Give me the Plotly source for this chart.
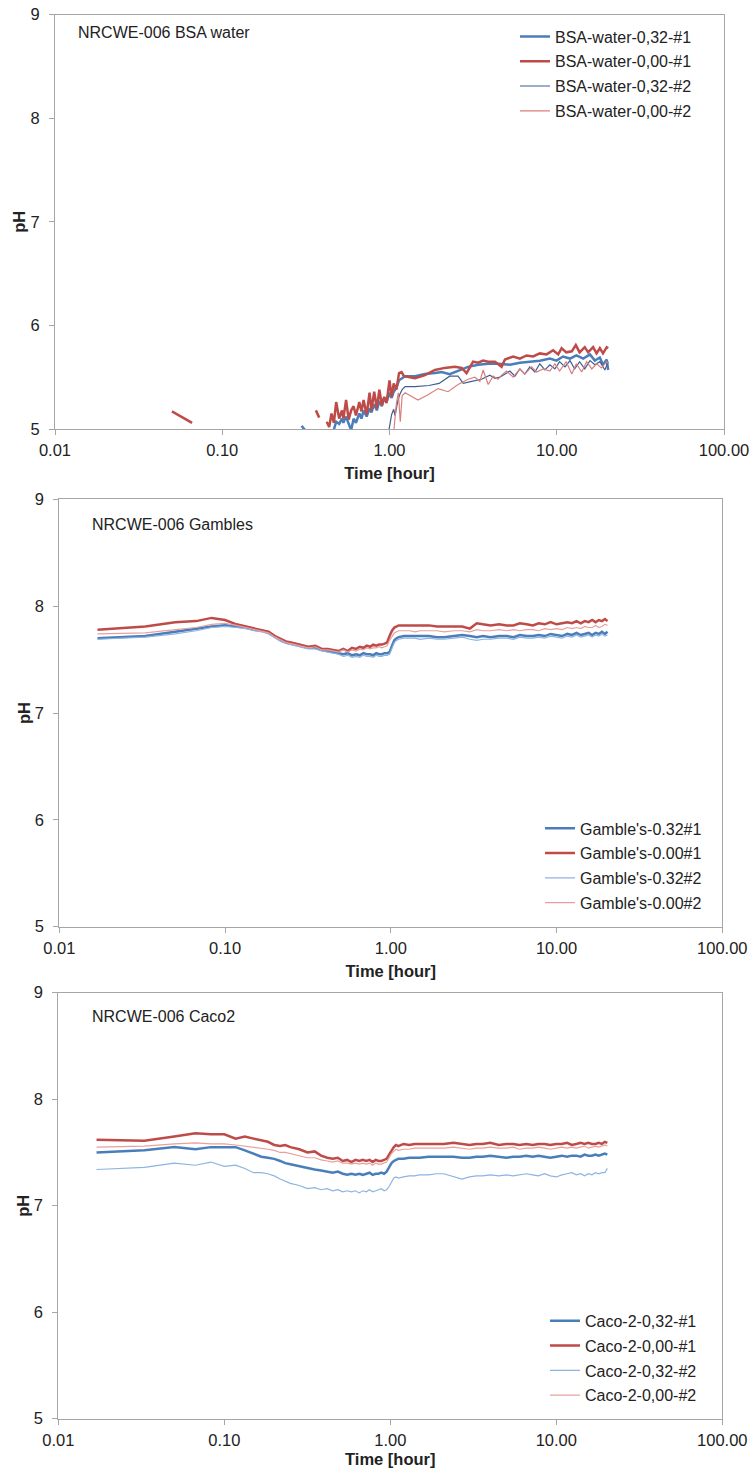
import plotly.graph_objects as go

W, H = 751, 1468

# ---------------- Panel 1: BSA water ----------------
bsa_t_032_1 = [0.298, 0.32, 0.40, 0.46, 0.48, 0.50, 0.52, 0.53, 0.55, 0.57, 0.59, 0.61, 0.63, 0.66, 0.68,
               0.70, 0.73, 0.76, 0.78, 0.81, 0.84, 0.87, 0.90, 0.93, 0.96, 1.00, 1.03, 1.06, 1.10, 1.14,
               1.18, 1.24, 1.42, 1.63, 1.87, 2.05, 2.29, 2.57, 2.95, 3.39, 3.89, 4.46, 4.90, 5.25, 6.02,
               6.90, 7.92, 9.10, 9.97, 10.9, 12.0, 13.1, 14.4, 15.8, 16.9, 18.1, 18.9, 19.9, 20.3]
bsa_ph_032_1 = [5.03, 4.97, None, 4.97, 5.07, 5.05, 5.10, 5.06, 5.12, 5.05, 4.99, 5.10, 5.06, 5.15, 5.10,
                5.18, 5.12, 5.20, 5.16, 5.24, 5.18, 5.27, 5.22, 5.30, 5.26, 5.35, 5.30, 5.36, 5.40, 5.47,
                5.49, 5.51, 5.51, 5.53, 5.54, 5.55, 5.53, 5.56, 5.60, 5.62, 5.63, 5.63, 5.62, 5.62, 5.64,
                5.65, 5.66, 5.68, 5.66, 5.70, 5.68, 5.71, 5.68, 5.72, 5.66, 5.69, 5.62, 5.67, 5.57]

bsa_t_000_1 = [0.050, 0.066, 0.20, 0.363, 0.38, 0.40, 0.421, 0.436, 0.45, 0.465, 0.48, 0.50, 0.52, 0.53,
               0.55, 0.57, 0.59, 0.61, 0.63, 0.66, 0.68, 0.70, 0.73, 0.76, 0.78, 0.81, 0.84, 0.87, 0.90,
               0.93, 0.96, 1.00, 1.03, 1.06, 1.10, 1.14, 1.18, 1.22, 1.42, 1.63, 1.87, 2.14, 2.46, 2.70,
               2.89, 3.16, 3.39, 3.63, 3.89, 4.27, 4.68, 4.90, 5.49, 6.02, 6.60, 7.23, 7.92, 8.69, 9.51,
               10.2, 10.7, 11.4, 12.3, 13.0, 13.7, 14.7, 15.4, 16.5, 17.3, 18.1, 18.9, 19.9, 20.3]
bsa_ph_000_1 = [5.17, 5.06, None, 5.18, 5.11, None, 5.07, 5.02, 5.15, 5.06, 5.26, 5.10, 5.18, 5.10,
                5.28, 5.09, 5.18, 5.22, 5.13, 5.26, 5.17, 5.28, 5.14, 5.35, 5.18, 5.36, 5.20, 5.38, 5.23,
                5.31, 5.25, 5.47, 5.31, 5.44, 5.38, 5.54, 5.55, 5.51, 5.49, 5.52, 5.57, 5.59, 5.60, 5.59,
                5.54, 5.65, 5.64, 5.66, 5.65, 5.65, 5.60, 5.67, 5.70, 5.68, 5.71, 5.70, 5.73, 5.72, 5.76,
                5.72, 5.78, 5.74, 5.75, 5.81, 5.74, 5.79, 5.74, 5.79, 5.73, 5.78, 5.73, 5.79, 5.78]

bsa_t_032_2 = [0.97, 1.00, 1.03, 1.06, 1.08, 1.12, 1.15, 1.19, 1.24, 1.42, 1.72, 1.98, 2.29, 2.57, 2.76,
               3.10, 3.55, 3.98, 4.27, 4.57, 4.90, 5.25, 5.62, 6.02, 6.44, 6.90, 7.40, 7.92, 8.49, 9.10,
               9.75, 10.4, 11.2, 12.0, 12.8, 13.7, 14.7, 15.8, 16.9, 18.1, 19.4, 20.3]
bsa_ph_032_2 = [4.90, 5.01, 5.14, 5.19, 5.13, 5.27, 5.33, 5.38, 5.41, 5.41, 5.42, 5.44, 5.51, 5.51, 5.44,
                5.46, 5.48, 5.52, 5.49, 5.50, 5.53, 5.56, 5.51, 5.58, 5.53, 5.60, 5.55, 5.63, 5.57, 5.62,
                5.58, 5.65, 5.60, 5.66, 5.58, 5.65, 5.58, 5.66, 5.62, 5.65, 5.57, 5.65]

bsa_t_000_2 = [1.05, 1.10, 1.13, 1.16, 1.19, 1.24, 1.48, 1.70, 1.95, 2.24, 2.57, 2.95, 3.24, 3.47, 3.63,
               3.89, 4.17, 4.46, 4.68, 5.01, 5.49, 6.02, 6.44, 7.07, 7.57, 8.30, 9.10, 9.75, 10.4, 11.4,
               12.3, 13.1, 14.1, 15.1, 16.2, 17.3, 18.5, 19.9, 20.3]
bsa_ph_000_2 = [4.90, 5.25, 5.35, 5.07, 5.32, 5.35, 5.28, 5.33, 5.39, 5.36, 5.43, 5.48, 5.50, 5.46, 5.57,
                5.43, 5.51, 5.48, 5.52, 5.56, 5.50, 5.58, 5.53, 5.60, 5.55, 5.58, 5.56, 5.63, 5.56, 5.65,
                5.53, 5.63, 5.55, 5.65, 5.58, 5.63, 5.59, 5.65, 5.63]

# ---------------- Shared sampling times for panels 2 and 3 (hours) ----------------
time_h = [0.017, 0.033, 0.050, 0.067, 0.083, 0.100, 0.117, 0.133, 0.150, 0.167,
          0.183, 0.200, 0.217, 0.233, 0.250, 0.283, 0.317, 0.350, 0.383, 0.417,
          0.450, 0.483, 0.517, 0.550, 0.583, 0.617, 0.650, 0.683, 0.717, 0.750,
          0.783, 0.817, 0.850, 0.883, 0.917, 0.950, 0.983, 1.017, 1.050, 1.083,
          1.117, 1.2, 1.3, 1.4, 1.5, 1.7, 1.9, 2.1, 2.4, 2.7,
          3.0, 3.3, 3.6, 4.0, 4.5, 5.0, 5.5, 6.0, 6.6, 7.2,
          7.8, 8.5, 9.2, 10.0, 10.8, 11.6, 12.4, 13.2, 14.0, 14.8,
          15.6, 16.4, 17.2, 18.0, 18.8, 19.6, 20.3]

# ---------------- Panel 2: Gambles ----------------
gam_032_1 = [7.70, 7.72, 7.76, 7.79, 7.81, 7.82, 7.81, 7.80, 7.78, 7.77,
             7.75, 7.71, 7.68, 7.66, 7.65, 7.63, 7.61, 7.61, 7.59, 7.58,
             7.57, 7.56, 7.55, 7.56, 7.54, 7.55, 7.54, 7.56, 7.55, 7.55,
             7.54, 7.56, 7.55, 7.55, 7.56, 7.56, 7.57, 7.63, 7.68, 7.70,
             7.71, 7.72, 7.72, 7.72, 7.72, 7.72, 7.71, 7.71, 7.72, 7.73,
             7.72, 7.71, 7.72, 7.71, 7.72, 7.72, 7.71, 7.73, 7.72, 7.72,
             7.73, 7.72, 7.74, 7.73, 7.72, 7.74, 7.73, 7.75, 7.73, 7.74,
             7.75, 7.73, 7.75, 7.74, 7.76, 7.74, 7.76]
gam_000_1 = [7.78, 7.81, 7.85, 7.86, 7.89, 7.87, 7.83, 7.81, 7.79, 7.78,
             7.76, 7.72, 7.69, 7.67, 7.66, 7.64, 7.62, 7.63, 7.60, 7.60,
             7.59, 7.58, 7.60, 7.58, 7.61, 7.60, 7.62, 7.61, 7.63, 7.62,
             7.64, 7.63, 7.64, 7.64, 7.65, 7.66, 7.72, 7.77, 7.80, 7.81,
             7.82, 7.82, 7.82, 7.82, 7.82, 7.82, 7.81, 7.81, 7.81, 7.81,
             7.79, 7.84, 7.83, 7.82, 7.83, 7.82, 7.82, 7.84, 7.83, 7.82,
             7.84, 7.83, 7.85, 7.83, 7.84, 7.85, 7.84, 7.86, 7.84, 7.86,
             7.85, 7.87, 7.85, 7.87, 7.86, 7.88, 7.86]
gam_032_2 = [7.69, 7.71, 7.74, 7.77, 7.80, 7.81, 7.80, 7.79, 7.77, 7.76,
             7.74, 7.70, 7.67, 7.65, 7.64, 7.62, 7.60, 7.60, 7.58, 7.57,
             7.56, 7.55, 7.53, 7.54, 7.52, 7.53, 7.52, 7.54, 7.53, 7.53,
             7.52, 7.54, 7.53, 7.53, 7.54, 7.54, 7.55, 7.61, 7.66, 7.68,
             7.69, 7.70, 7.70, 7.70, 7.69, 7.70, 7.69, 7.69, 7.70, 7.71,
             7.69, 7.68, 7.69, 7.69, 7.70, 7.70, 7.69, 7.71, 7.70, 7.70,
             7.71, 7.70, 7.72, 7.71, 7.70, 7.72, 7.71, 7.73, 7.71, 7.72,
             7.73, 7.71, 7.73, 7.72, 7.74, 7.72, 7.73]
gam_000_2 = [7.74, 7.75, 7.78, 7.80, 7.83, 7.84, 7.82, 7.80, 7.78, 7.77,
             7.75, 7.71, 7.68, 7.66, 7.65, 7.63, 7.61, 7.62, 7.59, 7.59,
             7.58, 7.57, 7.59, 7.57, 7.59, 7.58, 7.60, 7.59, 7.61, 7.60,
             7.61, 7.61, 7.62, 7.61, 7.62, 7.63, 7.68, 7.72, 7.75, 7.76,
             7.77, 7.77, 7.77, 7.76, 7.77, 7.77, 7.77, 7.76, 7.77, 7.77,
             7.76, 7.78, 7.77, 7.77, 7.78, 7.77, 7.78, 7.77, 7.78, 7.78,
             7.77, 7.79, 7.78, 7.79, 7.78, 7.80, 7.79, 7.80, 7.79, 7.81,
             7.80, 7.80, 7.82, 7.80, 7.81, 7.83, 7.82]

# ---------------- Panel 3: Caco2 ----------------
caco_032_1 = [7.50, 7.52, 7.55, 7.53, 7.55, 7.55, 7.55, 7.52, 7.49, 7.46,
              7.45, 7.44, 7.42, 7.40, 7.39, 7.37, 7.35, 7.34, 7.33, 7.32,
              7.31, 7.32, 7.30, 7.29, 7.30, 7.29, 7.30, 7.29, 7.30, 7.31,
              7.29, 7.30, 7.30, 7.31, 7.30, 7.32, 7.36, 7.40, 7.42, 7.43,
              7.44, 7.44, 7.45, 7.45, 7.45, 7.46, 7.46, 7.46, 7.46, 7.45,
              7.45, 7.46, 7.46, 7.47, 7.46, 7.45, 7.46, 7.46, 7.47, 7.46,
              7.47, 7.46, 7.45, 7.46, 7.47, 7.46, 7.47, 7.47, 7.46, 7.48,
              7.47, 7.47, 7.48, 7.47, 7.48, 7.49, 7.48]
caco_000_1 = [7.62, 7.61, 7.65, 7.68, 7.67, 7.67, 7.63, 7.65, 7.63, 7.61,
              7.60, 7.57, 7.56, 7.57, 7.55, 7.53, 7.50, 7.51, 7.47, 7.45,
              7.44, 7.45, 7.42, 7.43, 7.41, 7.43, 7.42, 7.43, 7.42, 7.43,
              7.41, 7.43, 7.42, 7.42, 7.43, 7.44, 7.48, 7.52, 7.55, 7.57,
              7.56, 7.58, 7.57, 7.58, 7.58, 7.58, 7.58, 7.58, 7.59, 7.58,
              7.57, 7.58, 7.58, 7.59, 7.57, 7.58, 7.58, 7.57, 7.58, 7.57,
              7.58, 7.58, 7.57, 7.58, 7.58, 7.59, 7.57, 7.58, 7.59, 7.58,
              7.59, 7.58, 7.58, 7.59, 7.58, 7.60, 7.59]
caco_032_2 = [7.34, 7.36, 7.40, 7.38, 7.41, 7.37, 7.38, 7.35, 7.31, 7.31,
              7.30, 7.28, 7.25, 7.23, 7.21, 7.19, 7.16, 7.17, 7.15, 7.16,
              7.14, 7.15, 7.13, 7.14, 7.13, 7.14, 7.12, 7.14, 7.13, 7.15,
              7.13, 7.14, 7.15, 7.16, 7.14, 7.15, 7.18, 7.23, 7.26, 7.27,
              7.26, 7.27, 7.28, 7.28, 7.29, 7.29, 7.30, 7.30, 7.27, 7.25,
              7.27, 7.28, 7.28, 7.29, 7.28, 7.29, 7.28, 7.29, 7.30, 7.29,
              7.28, 7.30, 7.28, 7.27, 7.29, 7.30, 7.31, 7.29, 7.30, 7.28,
              7.30, 7.29, 7.31, 7.30, 7.31, 7.31, 7.35]
caco_000_2 = [7.55, 7.56, 7.58, 7.59, 7.58, 7.58, 7.57, 7.56, 7.55, 7.54,
              7.53, 7.52, 7.50, 7.50, 7.49, 7.47, 7.45, 7.45, 7.43, 7.42,
              7.41, 7.42, 7.40, 7.40, 7.39, 7.40, 7.39, 7.40, 7.39, 7.40,
              7.38, 7.40, 7.39, 7.39, 7.40, 7.41, 7.45, 7.49, 7.51, 7.53,
              7.52, 7.53, 7.53, 7.54, 7.54, 7.54, 7.54, 7.54, 7.55, 7.54,
              7.53, 7.54, 7.54, 7.55, 7.54, 7.54, 7.55, 7.53, 7.54, 7.54,
              7.55, 7.54, 7.53, 7.54, 7.55, 7.54, 7.55, 7.54, 7.55, 7.56,
              7.54, 7.55, 7.56, 7.55, 7.56, 7.57, 7.56]

x_tickvals = [0.01, 0.1, 1, 10, 100]
x_ticktext = ["0.01", "0.10", "1.00", "10.00", "100.00"]
y_tickvals = [5, 6, 7, 8, 9]

BLUE1, RED1 = "#4a7ebb", "#be4b48"
BLUE2_BSA, RED2_BSA = "#3e5f94", "#d9807d"
BLUE2, RED2 = "#8db4e2", "#e8a09e"
AXC = "#a6a6a6"
TXT = "#222222"
FONT = "Arial, Liberation Sans, sans-serif"

fig = go.Figure()

def add(x, y, name, color, width, xa, ya, leg):
    fig.add_trace(go.Scatter(x=x, y=y, mode="lines", name=name, legendgroup=name,
                             line=dict(color=color, width=width), xaxis=xa, yaxis=ya,
                             legend=leg, connectgaps=False, cliponaxis=True))

add(bsa_t_032_1, bsa_ph_032_1, "BSA-water-0,32-#1", BLUE1, 2.5, "x", "y", "legend")
add(bsa_t_000_1, bsa_ph_000_1, "BSA-water-0,00-#1", RED1, 2.5, "x", "y", "legend")
add(bsa_t_032_2, bsa_ph_032_2, "BSA-water-0,32-#2", BLUE2_BSA, 1.2, "x", "y", "legend")
add(bsa_t_000_2, bsa_ph_000_2, "BSA-water-0,00-#2", RED2_BSA, 1.2, "x", "y", "legend")

add(time_h, gam_032_1, "Gamble's-0.32#1", BLUE1, 2.5, "x2", "y2", "legend2")
add(time_h, gam_000_1, "Gamble's-0.00#1", RED1, 2.5, "x2", "y2", "legend2")
add(time_h, gam_032_2, "Gamble's-0.32#2", BLUE2, 1.2, "x2", "y2", "legend2")
add(time_h, gam_000_2, "Gamble's-0.00#2", RED2, 1.2, "x2", "y2", "legend2")

add(time_h, caco_032_1, "Caco-2-0,32-#1", BLUE1, 2.5, "x3", "y3", "legend3")
add(time_h, caco_000_1, "Caco-2-0,00-#1", RED1, 2.5, "x3", "y3", "legend3")
add(time_h, caco_032_2, "Caco-2-0,32-#2", BLUE2, 1.2, "x3", "y3", "legend3")
add(time_h, caco_000_2, "Caco-2-0,00-#2", RED2, 1.2, "x3", "y3", "legend3")

def xd(a, b):
    return [a / W, b / W]

def yd(top, bottom):
    return [(H - bottom) / H, (H - top) / H]

def xaxis(dom, anchor, standoff):
    return dict(domain=dom, anchor=anchor, type="log", range=[-2, 2], automargin=False,
                tickvals=x_tickvals, ticktext=x_ticktext, ticks="outside", ticklen=5,
                tickcolor=AXC, showline=True, linecolor=AXC, linewidth=1, mirror=True,
                showgrid=False, zeroline=False, ticklabelstandoff=1,
                tickfont=dict(size=16.5, color=TXT, family=FONT),
                title=dict(text="Time [hour]", font=dict(size=16.5, color=TXT, family=FONT, weight="bold"),
                           standoff=standoff))

def yaxis(dom, anchor):
    return dict(domain=dom, anchor=anchor, range=[5, 9], tickvals=y_tickvals, automargin=False,
                ticks="outside", ticklen=5, tickcolor=AXC, showline=True, linecolor=AXC,
                linewidth=1, mirror=True, showgrid=False, zeroline=False, ticklabelstandoff=6,
                tickfont=dict(size=16.5, color=TXT, family=FONT),
                title=dict(text="pH", font=dict(size=16.5, color=TXT, family=FONT, weight="bold"),
                           standoff=0))

def legend(x_px, top_px):
    return dict(x=x_px / W, y=(H - top_px) / H, xanchor="left", yanchor="top",
                bgcolor="rgba(0,0,0,0)", font=dict(size=16, color=TXT, family=FONT),
                traceorder="grouped", tracegroupgap=1, borderwidth=0)

ann_font = dict(size=16, color=TXT, family=FONT)

fig.update_layout(
    width=W, height=H, margin=dict(l=0, r=0, t=0, b=0, autoexpand=False),
    paper_bgcolor="white", plot_bgcolor="white",
    font=dict(family=FONT, color=TXT),
    xaxis=xaxis(xd(55, 724), "y", 9), yaxis=yaxis(yd(14.7, 429), "x"),
    xaxis2=xaxis(xd(59.3, 722.3), "y2", 9), yaxis2=yaxis(yd(499.3, 926.7), "x2"),
    xaxis3=xaxis(xd(58.3, 722.3), "y3", 5), yaxis3=yaxis(yd(992.7, 1418.7), "x3"),
    legend=legend(515, 19.5), legend2=legend(540, 811.4), legend3=legend(545, 1303.8),
    showlegend=True,
    annotations=[
        dict(text="NRCWE-006 BSA water", x=76 / W, y=(H - 32.3) / H, xref="paper", yref="paper",
             xanchor="left", yanchor="middle", showarrow=False, font=ann_font),
        dict(text="NRCWE-006 Gambles", x=90 / W, y=(H - 524) / H, xref="paper", yref="paper",
             xanchor="left", yanchor="middle", showarrow=False, font=ann_font),
        dict(text="NRCWE-006 Caco2", x=90 / W, y=(H - 1016.7) / H, xref="paper", yref="paper",
             xanchor="left", yanchor="middle", showarrow=False, font=ann_font),
    ],
)

fig.write_html("out.html")
